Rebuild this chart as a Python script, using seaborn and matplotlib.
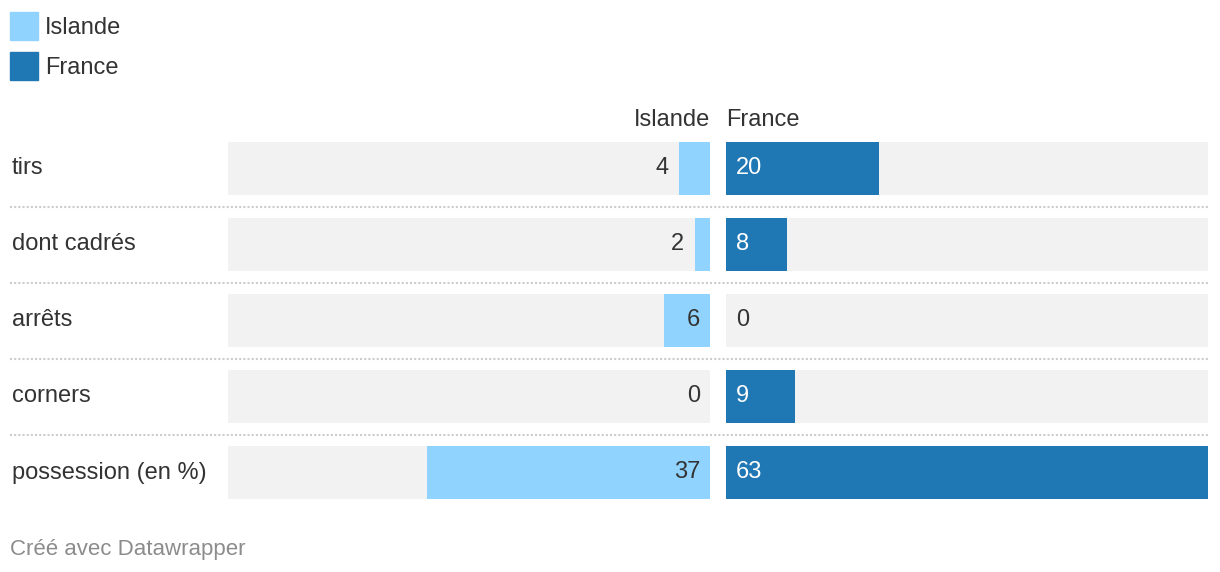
import matplotlib.pyplot as plt
import matplotlib.transforms as mtransforms
from matplotlib.patches import Patch
from matplotlib.lines import Line2D
import seaborn as sns
import pandas as pd

# Data
stats = ["tirs", "dont cadrés", "arrêts", "corners", "possession (en %)"]
islande = [4, 2, 6, 0, 37]
france = [20, 8, 0, 9, 63]

light_blue = "#91d3ff"
dark_blue = "#1f77b4"
track_grey = "#f2f2f2"
text_col = "#333333"

sns.set_theme(style="white")
plt.rcParams["font.family"] = ["Liberation Sans", "DejaVu Sans"]

W, H = 1220, 572
fig = plt.figure(figsize=(W / 100, H / 100), dpi=100)

def px_axes(x0, x1, y0, y1):
    return fig.add_axes([x0 / W, 1 - y1 / H, (x1 - x0) / W, (y1 - y0) / H])

ax_l = px_axes(228, 710, 130.5, 510.5)
ax_r = px_axes(726, 1208, 130.5, 510.5)

vmax = max(max(islande), max(france))
df = pd.DataFrame({"stat": stats, "Islande": islande, "France": france,
                   "track": [vmax] * len(stats)})

fs = 17
for ax, col, color in [(ax_l, "Islande", light_blue), (ax_r, "France", dark_blue)]:
    sns.barplot(data=df, x="track", y="stat", ax=ax, color=track_grey,
                orient="h", width=0.7, saturation=1, linewidth=0)
    sns.barplot(data=df, x=col, y="stat", ax=ax, color=color,
                orient="h", width=0.7, saturation=1, linewidth=0)
    ax.set_xlim(0, vmax)
    ax.set_ylim(len(stats) - 0.5, -0.5)
    ax.axis("off")
ax_l.invert_xaxis()

# value labels
pad_l = 10 / 482 * vmax
for i, v in enumerate(islande):
    if v * 482 / vmax > 40 or v == 0:
        ax_l.text(pad_l, i, str(v), ha="right", va="center", fontsize=fs, color=text_col)
    else:
        ax_l.text(v + pad_l * 1.1, i, str(v), ha="right", va="center", fontsize=fs, color=text_col)
for i, v in enumerate(france):
    c = "white" if v * 482 / vmax > 30 else text_col
    ax_r.text(pad_l, i, str(v), ha="left", va="center", fontsize=fs, color=c)

# row labels and separators
tr = mtransforms.blended_transform_factory(fig.transFigure, ax_l.transData)
for i, s in enumerate(stats):
    fig.text(12 / W, i, s, transform=tr, ha="left", va="center", fontsize=fs, color=text_col)
for i in range(len(stats) - 1):
    fig.add_artist(Line2D([10 / W, 1208 / W], [i + 0.5, i + 0.5], transform=tr,
                          color="#cccccc", lw=1.5, linestyle=(0, (1, 1))))

# column headers
fig.text(710 / W, 1 - 119.5 / H, "Islande", ha="right", va="center", fontsize=fs, color=text_col)
fig.text(726 / W, 1 - 119.5 / H, "France", ha="left", va="center", fontsize=fs, color=text_col)

# legend
handles = [Patch(color=light_blue, label="Islande"), Patch(color=dark_blue, label="France")]
fig.legend(handles=handles, loc="upper left", bbox_to_anchor=(10 / W, 1 - 12 / H),
           frameon=False, fontsize=fs, handlelength=1.19, handleheight=1.45,
           handletextpad=0.3, labelspacing=0.5, borderpad=0, borderaxespad=0,
           labelcolor=text_col)

fig.text(10 / W, 1 - 549 / H, "Créé avec Datawrapper", ha="left", va="center",
         fontsize=16, color="#8c8c8c")

fig.savefig("out.png", dpi=100, facecolor="white")
